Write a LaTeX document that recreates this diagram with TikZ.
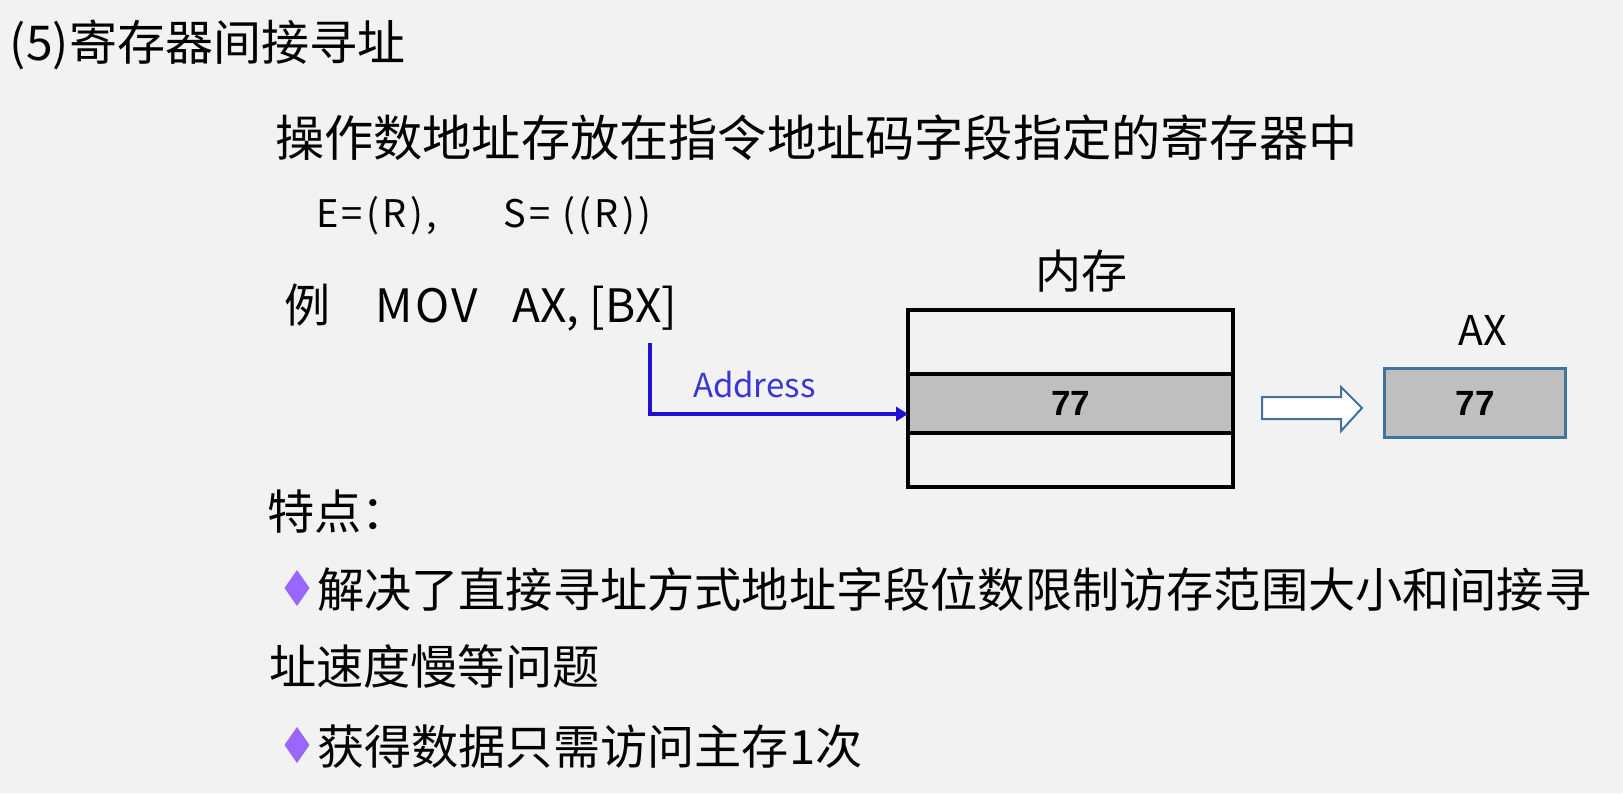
\documentclass[tikz,border=0pt]{standalone}
\usepackage{fontspec}
\setmainfont{Noto Sans CJK SC}
\newfontfamily\numfont{Liberation Sans}
\newfontfamily\spacedfont[LetterSpace=9]{Noto Sans CJK SC}
\newfontfamily\movfont[LetterSpace=6]{Noto Sans CJK SC}
\usetikzlibrary{arrows.meta}
\definecolor{bg}{HTML}{F2F2F2}
\definecolor{addrline}{HTML}{2010D0}
\definecolor{addrtext}{HTML}{3A36D6}
\definecolor{steel}{HTML}{41719C}
\definecolor{cellgray}{HTML}{BFBFBF}
\definecolor{bulletc}{HTML}{9966FF}
\begin{document}
\begin{tikzpicture}[x=0.5pt,y=-0.5pt,
  txt/.style={inner sep=0pt,outer sep=0pt,anchor=base west},
  body/.style={txt,font=\fontsize{23.6}{28}\selectfont},
  cell/.style={draw=black,line width=2.2pt,minimum width=162.5pt,inner sep=0pt,outer sep=0pt},
  num/.style={font=\numfont\bfseries\fontsize{17.5}{20}\selectfont},
  addr/.style={draw=addrline,line width=2.2pt,-{Triangle[length=6pt,width=7pt]}},
  bul/.style={fill=bulletc,draw=none}]
\fill[bg] (0,0) rectangle (1623,793);
\useasboundingbox (0,0) rectangle (1623,793);

\node[txt,font=\fontsize{24}{28}\selectfont] (title) at (10,60) {(5)寄存器间接寻址};
\node[txt,font=\fontsize{24.6}{30}\selectfont] (desc) at (275,156) {操作数地址存放在指令地址码字段指定的寄存器中};
\node[txt,font=\spacedfont\fontsize{19}{22}\selectfont] (eq1) at (316,227) {E=(R),};
\node[txt,font=\spacedfont\fontsize{19}{22}\selectfont] (eq2) at (503,227) {S= ((R))};
\node[txt,font=\fontsize{23}{27}\selectfont] (ex) at (284,322) {例};
\node[txt,font=\movfont\fontsize{23}{27}\selectfont] (mov) at (375,322) {MOV};
\node[txt,font=\fontsize{23}{27}\selectfont] (axbx) at (512,322) {AX, [BX]};

\node[txt,font=\fontsize{23}{27}\selectfont] (memlabel) at (1035,288) {内存};
\node[cell,minimum height=32pt] (ctop) at (1070.5,342) {};
\node[cell,minimum height=29.5pt,fill=cellgray,num] (cmid) at (1070.5,403.5) {77};
\node[cell,minimum height=27pt] (cbot) at (1070.5,460) {};

\coordinate (bxs) at (650,343);
\draw[addr] (bxs) |- ([yshift=-5.25pt]cmid.west);
\node[txt,font=\fontsize{16.5}{19}\selectfont,text=addrtext] (addrlbl) at (693,397) {Address};

\draw[steel,line width=1pt,fill=white] (1262,397) -- (1341,397) -- (1341,387) -- (1362,408) -- (1341,431) -- (1341,419) -- (1262,419) -- cycle;

\node[txt,font=\fontsize{20.5}{24}\selectfont] (axlabel) at (1458,345) {AX};
\node[draw=steel,line width=1.5pt,fill=cellgray,minimum width=90.5pt,minimum height=34.5pt,inner sep=0pt,num] (axbox) at (1475,403) {77};

\node[body] (feat) at (267,529) {特点：};
\fill[bul] (297,570) -- (309.5,588) -- (297,606) -- (284.5,588) -- cycle;
\node[body] (b1) at (317,607) {解决了直接寻址方式地址字段位数限制访存范围大小和间接寻};
\node[body] (b1b) at (269,684) {址速度慢等问题};
\fill[bul] (297,727) -- (309.5,745) -- (297,763) -- (284.5,745) -- cycle;
\node[body] (b2) at (317,764) {获得数据只需访问主存1次};
\end{tikzpicture}
\end{document}
